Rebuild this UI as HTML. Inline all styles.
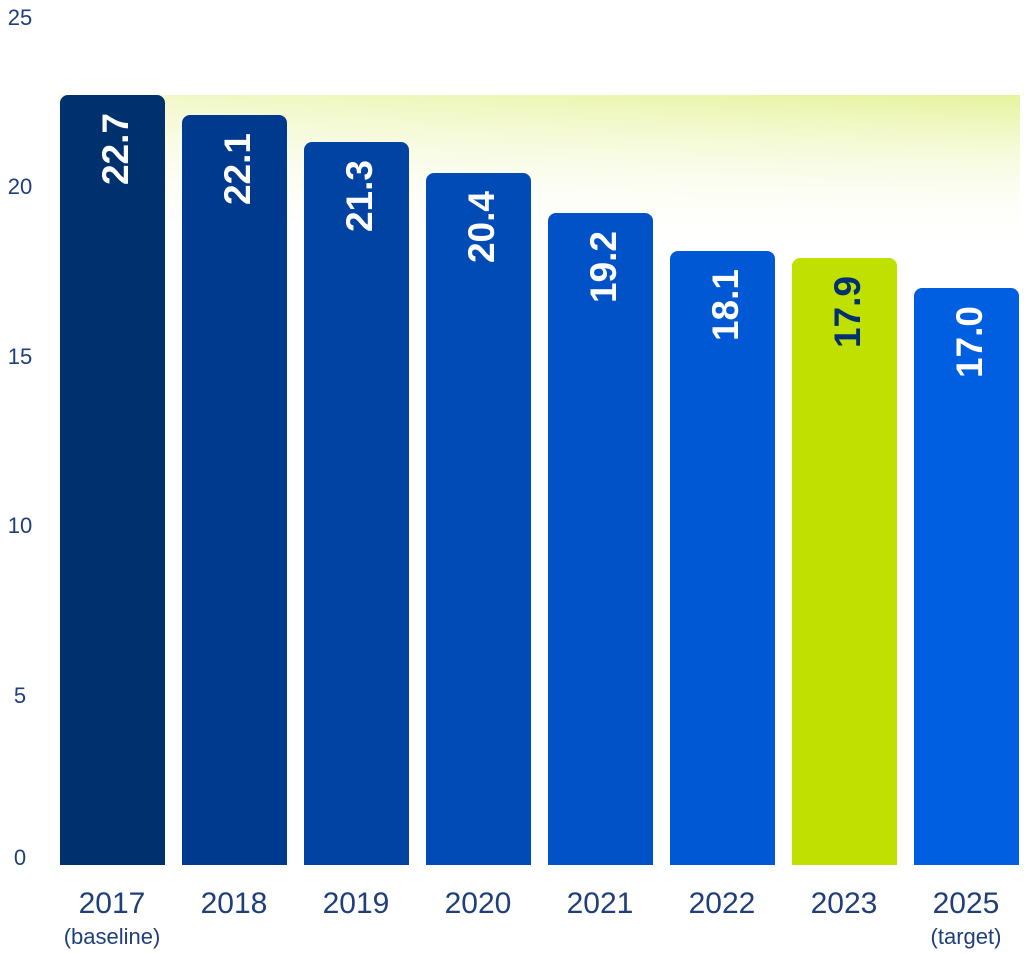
<!DOCTYPE html>
<html><head><meta charset="utf-8"><style>body{margin:0;background:#fff}svg{display:block}</style></head>
<body>
<svg width="1024" height="953" viewBox="0 0 1024 953" xmlns="http://www.w3.org/2000/svg" font-family="Liberation Sans, sans-serif">
<defs>
<linearGradient id="gv" x1="0" y1="0" x2="0" y2="1">
<stop offset="0" stop-color="#e6f39c" stop-opacity="1"/>
<stop offset="1" stop-color="#ffffff" stop-opacity="0"/>
</linearGradient>
<linearGradient id="gh" x1="0" y1="0" x2="1" y2="0">
<stop offset="0" stop-color="#fff" stop-opacity="0.5"/>
<stop offset="1" stop-color="#fff" stop-opacity="0"/>
</linearGradient>
</defs>
<rect x="60" y="95" width="960" height="150" fill="url(#gv)"/>
<rect x="60" y="95" width="960" height="150" fill="url(#gh)"/>
<g fill="#1f3f7a" font-size="22" text-anchor="middle">
<text x="20" y="25">25</text>
<text x="20" y="194">20</text>
<text x="20" y="364">15</text>
<text x="20" y="533">10</text>
<text x="20" y="703">5</text>
<text x="20" y="865">0</text>
</g>
<g>
<rect x="60" y="95" width="105" height="770" rx="8" fill="#00316f"/>
<rect x="60" y="845" width="105" height="20" fill="#00316f"/>
<rect x="182" y="115" width="105" height="750" rx="8" fill="#003a8e"/>
<rect x="182" y="845" width="105" height="20" fill="#003a8e"/>
<rect x="304" y="142" width="105" height="723" rx="8" fill="#0043a3"/>
<rect x="304" y="845" width="105" height="20" fill="#0043a3"/>
<rect x="426" y="173" width="105" height="692" rx="8" fill="#004bb6"/>
<rect x="426" y="845" width="105" height="20" fill="#004bb6"/>
<rect x="548" y="213" width="105" height="652" rx="8" fill="#0052c6"/>
<rect x="548" y="845" width="105" height="20" fill="#0052c6"/>
<rect x="670" y="251" width="105" height="614" rx="8" fill="#0058d5"/>
<rect x="670" y="845" width="105" height="20" fill="#0058d5"/>
<rect x="792" y="258" width="105" height="607" rx="8" fill="#bfe000"/>
<rect x="792" y="845" width="105" height="20" fill="#bfe000"/>
<rect x="914" y="288" width="105" height="577" rx="8" fill="#005ee0"/>
<rect x="914" y="845" width="105" height="20" fill="#005ee0"/>
</g>
<g font-size="37" font-weight="bold" fill="#fff" text-anchor="end">
<text transform="translate(128,113) rotate(-90)">22.7</text>
<text transform="translate(250,133) rotate(-90)">22.1</text>
<text transform="translate(372,160) rotate(-90)">21.3</text>
<text transform="translate(494,191) rotate(-90)">20.4</text>
<text transform="translate(616,231) rotate(-90)">19.2</text>
<text transform="translate(738,269) rotate(-90)">18.1</text>
<text transform="translate(860,276) rotate(-90)" fill="#00316f">17.9</text>
<text transform="translate(982,306) rotate(-90)">17.0</text>
</g>
<g fill="#1f3f7a" font-size="30" text-anchor="middle">
<text x="112" y="913">2017</text>
<text x="234" y="913">2018</text>
<text x="356" y="913">2019</text>
<text x="478" y="913">2020</text>
<text x="600" y="913">2021</text>
<text x="722" y="913">2022</text>
<text x="844" y="913">2023</text>
<text x="966" y="913">2025</text>
<text x="112" y="944" font-size="22">(baseline)</text>
<text x="966" y="944" font-size="22">(target)</text>
</g>
</svg>
</body></html>
